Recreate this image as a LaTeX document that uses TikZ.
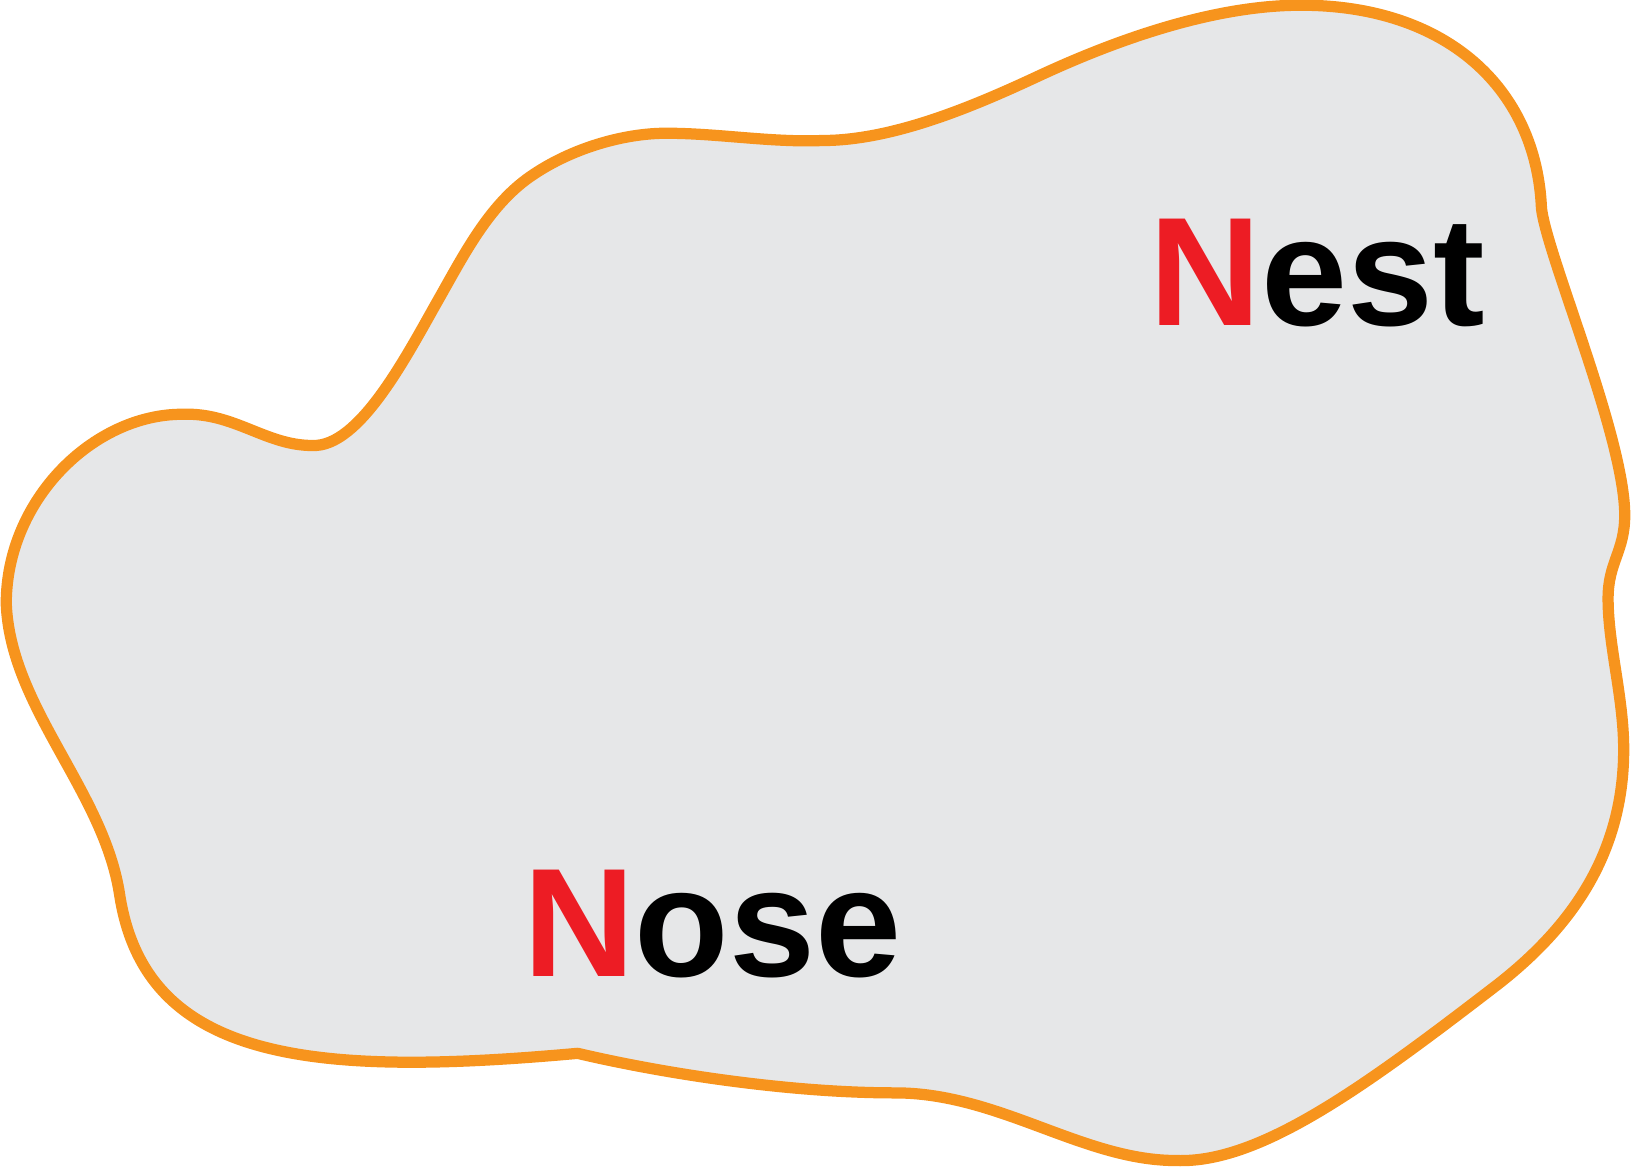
\documentclass[tikz,border=0pt]{standalone}
\usepackage{fontspec}
\setmainfont{Liberation Sans}
\usepackage{xcolor}
\usetikzlibrary{positioning}
\definecolor{blobOrange}{HTML}{F7941D}
\definecolor{blobGray}{HTML}{E6E7E8}
\definecolor{capRed}{HTML}{ED1C24}
\newcommand{\redcap}[2]{{\color{capRed}#1}#2}

\begin{document}
\begin{tikzpicture}[x=0.010408cm,y=-0.010408cm,
  outline/.style={line width=3.2pt,draw=blobOrange,fill=blobGray,line join=round},
  word/.style={anchor=base west,inner sep=0pt,font=\fontsize{44}{50}\selectfont\bfseries}
]
\useasboundingbox (0,0) rectangle (1568,1121);
%--- Blob outline (starts and ends at the bottom kink) ---
\draw[outline] (555,1012)
  .. controls (300,1035) and (140,1020) .. (115,860)   % bottom left
  .. controls (100,760) and (10,680) .. (6,580)        % left lobe
  .. controls (6,480) and (90,398) .. (175,398)
  .. controls (225,396) and (255,428) .. (300,428)     % dent
  .. controls (345,430) and (390,343) .. (420,290)
  .. controls (445,246) and (469,198) .. (509,170)
  .. controls (549,142) and (600,128) .. (640,128)
  .. controls (690,128) and (740,137) .. (790,135)
  .. controls (860,135) and (940,100) .. (1000,72)
  .. controls (1080,35) and (1170,5) .. (1250,5)       % top
  .. controls (1390,5) and (1476,85) .. (1481,200)
  .. controls (1486,245) and (1561,420) .. (1561,495)  % right side
  .. controls (1561,530) and (1545,540) .. (1545,575)
  .. controls (1545,620) and (1560,670) .. (1560,720)
  .. controls (1560,820) and (1510,890) .. (1440,945)
  .. controls (1310,1045) and (1210,1118) .. (1130,1115) % bottom right
  .. controls (1040,1115) and (960,1050) .. (860,1050)
  .. controls (760,1050) and (640,1032) .. (555,1012) -- cycle;
%--- Labels ---
\node[word] (nest) at (1104,313) {\redcap{N}{est}};
\node[word] (nose) at (502,938) {\redcap{N}{ose}};
\end{tikzpicture}
\end{document}
